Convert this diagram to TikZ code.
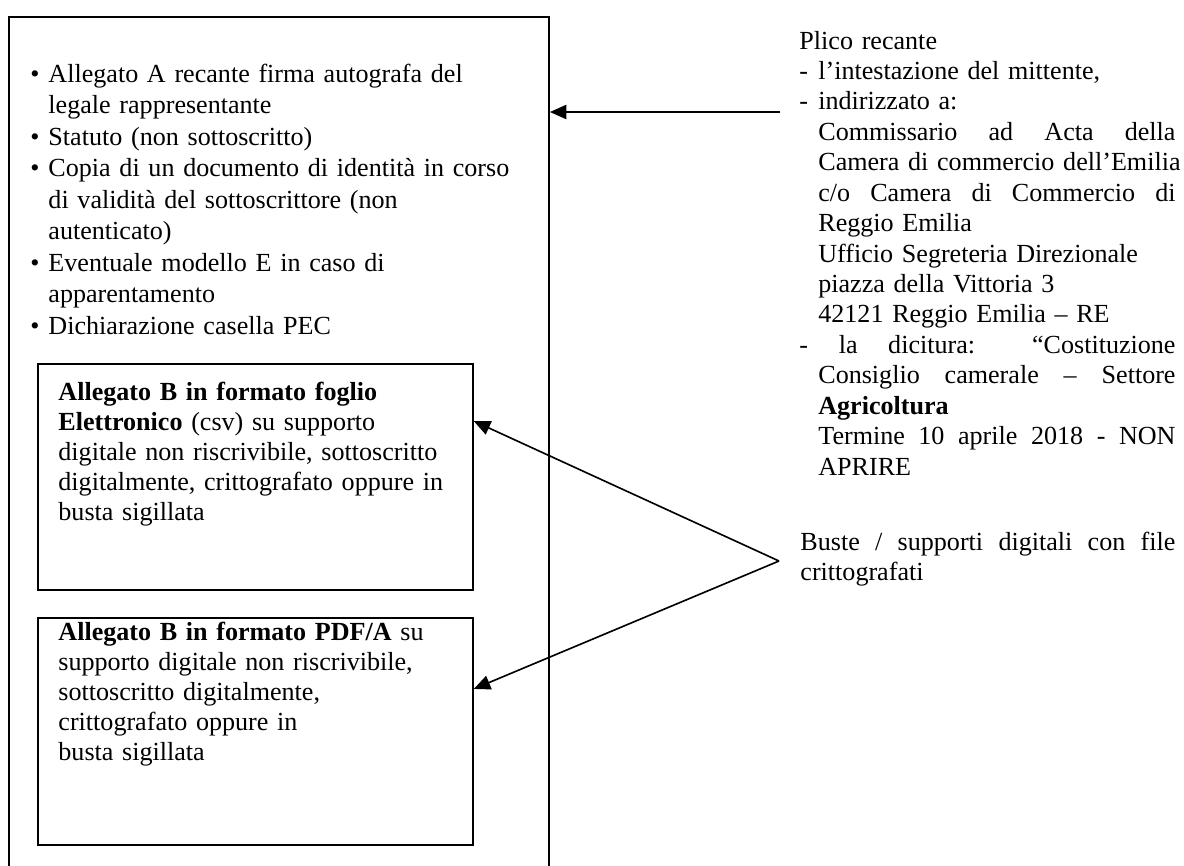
\documentclass[tikz,border=0pt]{standalone}
\usepackage{fontspec}
\setmainfont{Liberation Serif}
\usetikzlibrary{arrows.meta}

\newcommand{\rientro}{\hspace*{8.7pt}}
\newcommand{\trattino}{\makebox[8.7pt][l]{-}}
\newcommand{\giustifica}[2]{\makebox[#1][s]{\spaceskip=0pt\xspaceskip=0pt #2}}
\newcommand{\allarga}[1]{\giustifica{164.3pt}{#1}}
\newcommand{\punto}{\makebox[8.3pt][l]{\textbullet}}

\tikzset{
  testo/.style={inner sep=0pt, anchor=base west, align=left,
    font=\fontsize{12}{13.8}\selectfont},
  scatola/.style={draw, line width=0.8pt, inner sep=0pt, anchor=north west,
    minimum width=200.1pt},
  freccia/.style={line width=0.75pt, -{Triangle[length=7.6pt,width=6.6pt]}}
}

\begin{document}
\begin{tikzpicture}[x=0.46pt, y=-0.46pt]
\useasboundingbox (0,0) rectangle (1184,865);
% busta esterna (il lato in basso esce dalla pagina)
\node[draw, line width=0.9pt, inner sep=0pt, anchor=north west,
  minimum width=248.4pt, minimum height=406pt] (busta) at (8,16) {};
\node[testo, text width=230pt, font=\fontsize{12}{14.5}\selectfont] (elenco) at (30,82)
  {\punto Allegato A recante firma autografa del\\
   \hspace*{8.3pt}legale rappresentante\\
   \punto Statuto (non sottoscritto)\\
   \punto Copia di un documento di identità in corso\\
   \hspace*{8.3pt}di validità del sottoscrittore (non\\
   \hspace*{8.3pt}autenticato)\\
   \punto Eventuale modello E in caso di\\
   \hspace*{8.3pt}apparentamento\\
   \punto Dichiarazione casella PEC};

% le due buste interne
\node[scatola, minimum height=104pt] (csv) at (37,363) {};
\node[testo, text width=190pt] (csvtxt) at (58,400)
  {\textbf{Allegato B in formato foglio}\\
   \textbf{Elettronico} (csv) su supporto\\
   digitale non riscrivibile, sottoscritto\\
   digitalmente, crittografato oppure in\\
   busta sigillata};
\node[scatola, minimum height=104.4pt] (pdf) at (37,617) {};
\node[testo, text width=190pt] (pdftxt) at (58,640)
  {\textbf{Allegato B in formato PDF/A} su\\
   supporto digitale non riscrivibile,\\
   sottoscritto digitalmente,\\
   crittografato oppure in\\
   busta sigillata};

% testo a destra
\node[testo, text width=180pt, font=\fontsize{12}{14}\selectfont] (plico) at (799,49)
  {Plico recante\\
   \trattino l’intestazione del mittente,\\
   \trattino indirizzato a:\\
   \rientro\allarga{Commissario ad Acta della}\\
   \rientro\mbox{Camera di commercio dell’Emilia}\\
   \rientro\allarga{c/o Camera di Commercio di}\\
   \rientro Reggio Emilia\\
   \rientro Ufficio Segreteria Direzionale\\
   \rientro piazza della Vittoria 3\\
   \rientro 42121 Reggio Emilia – RE\\
   \giustifica{173pt}{- la dicitura: “Costituzione}\\
   \rientro\allarga{Consiglio camerale – Settore}\\
   \rientro\textbf{Agricoltura}\\
   \rientro\allarga{Termine 10 aprile 2018 - NON}\\
   \rientro APRIRE};
\node[testo, text width=180pt] (buste) at (800,550)
  {\giustifica{172.5pt}{Buste / supporti digitali con file}\\
   crittografati};

\coordinate (inizio) at (780,112);
\coordinate (perno) at (779,561);
\draw[freccia] (inizio) -- (busta.east |- inizio);
\draw[freccia] (perno) -- ([yshift=-26.7pt]csv.north east);
\draw[freccia] (perno) -- ([yshift=-33.1pt]pdf.north east);
\end{tikzpicture}
\end{document}
